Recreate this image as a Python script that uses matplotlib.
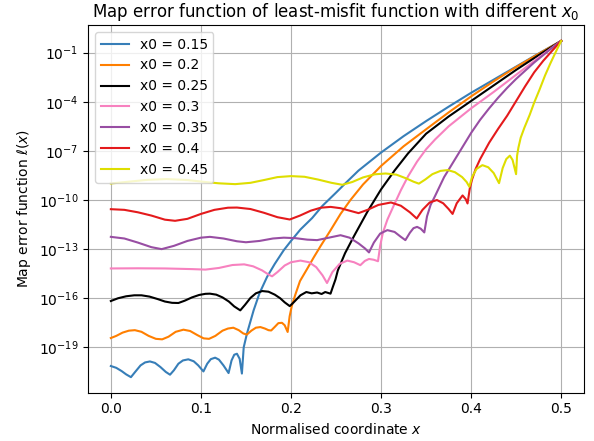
import numpy as np
import matplotlib
matplotlib.use('Agg')
import matplotlib.pyplot as plt
from matplotlib.ticker import NullLocator

# log10 of the map error l(x) for each x0, read along the normalised coordinate
x0_values = [0.15, 0.2, 0.25, 0.3, 0.35, 0.4, 0.45]

x_015 = [0, 0.006, 0.012, 0.017, 0.0223, 0.027, 0.033, 0.038, 0.0434, 0.049,
         0.055, 0.061, 0.0657, 0.070, 0.075, 0.080, 0.086, 0.092, 0.097, 0.1028,
         0.107, 0.111, 0.1158, 0.120, 0.125, 0.1307, 0.134, 0.137, 0.140, 0.143,
         0.1455, 0.1475, 0.1511, 0.1585, 0.165, 0.1734, 0.182, 0.1919, 0.2,
         0.2105, 0.2235, 0.235, 0.25, 0.26, 0.275, 0.3, 0.325, 0.35, 0.375, 0.4,
         0.425, 0.45, 0.475, 0.5]
ly_015 = [-20.14, -20.25, -20.45, -20.65, -20.82, -20.5, -20.1, -19.92, -19.86, -19.95,
          -20.2, -20.5, -20.67, -20.4, -20.0, -19.8, -19.73, -19.85, -20.1, -20.47,
          -20.0, -19.72, -19.63, -19.75, -20.1, -20.57, -19.8, -19.45, -19.39, -19.7,
          -20.6, -19.0, -18.16, -16.74, -15.7, -14.7, -13.9, -13.07, -12.5,
          -11.8, -11.1, -10.35, -9.55, -9.0, -8.2, -7.1, -6.1, -5.18, -4.3, -3.45,
          -2.65, -1.85, -1.05, -0.28]

x_020 = [0, 0.006, 0.013, 0.02, 0.0267, 0.034, 0.042, 0.05, 0.057, 0.064,
         0.072, 0.0806, 0.088, 0.096, 0.103, 0.109, 0.116, 0.124, 0.130, 0.136,
         0.142, 0.147, 0.151, 0.156, 0.161, 0.166, 0.171, 0.175, 0.178, 0.182,
         0.186, 0.190, 0.193, 0.1963, 0.1985, 0.201, 0.205, 0.210, 0.218, 0.2253,
         0.233, 0.2439, 0.255, 0.266, 0.28, 0.3, 0.325, 0.35, 0.375, 0.4,
         0.425, 0.45, 0.475, 0.5]
ly_020 = [-18.43, -18.3, -18.1, -17.98, -17.95, -18.05, -18.3, -18.48, -18.51, -18.35,
          -18.05, -17.92, -18.0, -18.25, -18.45, -18.48, -18.3, -17.98, -17.85, -17.8,
          -17.95, -18.15, -18.22, -17.98, -17.8, -17.76, -17.85, -17.95, -17.97, -17.75,
          -17.52, -17.5, -17.65, -18.06, -17.1, -16.45, -15.75, -14.95, -14.2, -13.5,
          -12.8, -11.85, -10.85, -10.0, -9.05, -7.92, -6.72, -5.68, -4.65, -3.67,
          -2.75, -1.88, -1.07, -0.28]

x_025 = [0, 0.008, 0.017, 0.026, 0.034, 0.043, 0.052, 0.06, 0.068, 0.075,
         0.082, 0.09, 0.098, 0.105, 0.11, 0.117, 0.124, 0.131, 0.137, 0.1437,
         0.149, 0.155, 0.161, 0.168, 0.175, 0.182, 0.188, 0.193, 0.1986, 0.203,
         0.2105, 0.217, 0.223, 0.229, 0.234, 0.238, 0.2439, 0.2465, 0.2494, 0.252,
         0.26, 0.27, 0.285, 0.3, 0.315, 0.33, 0.35, 0.375, 0.4, 0.425,
         0.45, 0.475, 0.5]
ly_025 = [-16.17, -16.0, -15.88, -15.82, -15.82, -15.9, -16.05, -16.2, -16.28, -16.29,
          -16.15, -15.95, -15.8, -15.73, -15.72, -15.78, -15.95, -16.2, -16.5, -16.74,
          -16.4, -15.98, -15.7, -15.56, -15.6, -15.78, -16.0, -16.25, -16.48, -16.25,
          -15.82, -15.62, -15.7, -15.65, -15.74, -15.62, -15.72, -15.3, -14.85, -14.3,
          -13.25, -12.2, -10.7, -9.35, -8.2, -7.15, -5.95, -4.9, -3.95, -3.0,
          -2.05, -1.15, -0.28]

x_030 = [0, 0.03, 0.06, 0.09, 0.105, 0.12, 0.135, 0.148, 0.158, 0.168,
         0.175, 0.179, 0.185, 0.193, 0.2, 0.2105, 0.22, 0.228, 0.235, 0.24,
         0.246, 0.254, 0.2625, 0.27, 0.277, 0.282, 0.2866, 0.292, 0.2966, 0.299,
         0.302, 0.307, 0.314, 0.322, 0.33, 0.34, 0.35, 0.36, 0.375, 0.4,
         0.425, 0.45, 0.475, 0.5]
ly_030 = [-14.18, -14.17, -14.18, -14.22, -14.25, -14.15, -13.97, -13.93, -14.05, -14.3,
          -14.55, -14.66, -14.4, -14.0, -13.8, -13.7, -13.8, -14.1, -14.6, -15.07,
          -14.4, -13.9, -13.7, -13.8, -13.98, -13.72, -13.6, -13.65, -13.74, -12.8,
          -12.0, -11.2, -10.35, -9.4, -8.55, -7.65, -6.9, -6.3, -5.5, -4.4,
          -3.4, -2.35, -1.3, -0.28]

x_035 = [0, 0.015, 0.03, 0.045, 0.0564, 0.07, 0.085, 0.1, 0.11, 0.125,
         0.14, 0.15, 0.165, 0.18, 0.192, 0.205, 0.218, 0.229, 0.242, 0.255,
         0.265, 0.275, 0.282, 0.2866, 0.292, 0.299, 0.307, 0.315, 0.322, 0.327,
         0.332, 0.336, 0.34, 0.344, 0.348, 0.351, 0.355, 0.36, 0.37, 0.38,
         0.39, 0.4, 0.41, 0.42, 0.43, 0.44, 0.45, 0.46, 0.47, 0.48,
         0.49, 0.5]
ly_035 = [-12.25, -12.35, -12.6, -12.88, -13.0, -12.8, -12.5, -12.3, -12.25, -12.35,
          -12.52, -12.58, -12.5, -12.35, -12.3, -12.33, -12.42, -12.45, -12.3, -12.15,
          -12.3, -12.65, -12.95, -13.2, -12.6, -12.05, -11.84, -11.95, -12.25, -12.45,
          -12.0, -11.72, -11.64, -11.75, -11.98, -11.0, -10.3, -9.75, -8.6, -7.7,
          -6.8, -5.9, -5.1, -4.4, -3.75, -3.15, -2.6, -2.1, -1.6, -1.15,
          -0.7, -0.28]

x_040 = [0, 0.015, 0.03, 0.045, 0.06, 0.0713, 0.085, 0.1, 0.115, 0.13,
         0.14, 0.155, 0.17, 0.185, 0.1986, 0.21, 0.222, 0.233, 0.244, 0.255,
         0.265, 0.275, 0.285, 0.297, 0.311, 0.322, 0.332, 0.3396, 0.346, 0.354,
         0.362, 0.369, 0.375, 0.3794, 0.384, 0.3905, 0.394, 0.396, 0.3985, 0.401,
         0.405, 0.41, 0.42, 0.43, 0.44, 0.45, 0.46, 0.47, 0.48, 0.49,
         0.5]
ly_040 = [-10.56, -10.6, -10.75, -10.95, -11.2, -11.27, -11.15, -10.85, -10.6, -10.47,
          -10.46, -10.55, -10.78, -11.05, -11.19, -10.95, -10.65, -10.47, -10.42, -10.5,
          -10.65, -10.8, -10.6, -10.3, -10.15, -10.35, -10.75, -11.13, -10.6, -10.15,
          -10.0, -10.2, -10.55, -10.85, -10.2, -9.72, -9.95, -10.21, -9.3, -8.75,
          -8.1, -7.5, -6.5, -5.65, -4.85, -3.95, -3.05, -2.2, -1.5, -0.88,
          -0.28]

x_045 = [0, 0.02, 0.04, 0.062, 0.085, 0.105, 0.12, 0.138, 0.155, 0.17,
         0.185, 0.2, 0.215, 0.23, 0.245, 0.257, 0.268, 0.28, 0.293, 0.305,
         0.317, 0.328, 0.336, 0.342, 0.349, 0.357, 0.366, 0.374, 0.382, 0.39,
         0.395, 0.398, 0.401, 0.406, 0.4125, 0.419, 0.425, 0.431, 0.435, 0.439,
         0.443, 0.446, 0.4499, 0.451, 0.4525, 0.455, 0.459, 0.465, 0.470, 0.476,
         0.482, 0.488, 0.494, 0.5]
ly_045 = [-8.99, -8.88, -8.77, -8.72, -8.78, -8.9, -8.98, -9.03, -8.95, -8.78,
          -8.6, -8.54, -8.58, -8.75, -8.95, -9.07, -8.9, -8.62, -8.43, -8.38,
          -8.45, -8.68, -8.88, -9.0, -8.75, -8.42, -8.22, -8.17, -8.3, -8.6,
          -8.9, -9.19, -8.6, -8.1, -7.87, -8.0, -8.35, -8.97, -8.05, -7.5,
          -7.29, -7.55, -8.42, -7.3, -6.8, -6.2, -5.6, -4.8, -4.05, -3.25,
          -2.4, -1.65, -0.95, -0.28]

xs = [x_015, x_020, x_025, x_030, x_035, x_040, x_045]
lys = [ly_015, ly_020, ly_025, ly_030, ly_035, ly_040, ly_045]
colours = ['#377eb8', '#ff7f00', 'k', '#f781bf', '#984ea3', '#e41a1c', '#dede00']

fig = plt.figure(figsize=(5.94, 4.41), dpi=100)
ax = fig.add_axes([0.1487, 0.1095, 0.834, 0.8338])

for x0, x, ly, c in zip(x0_values, xs, lys, colours):
    ax.semilogy(x, 10.0 ** np.array(ly), color=c, lw=1.5, label='x0 = %g' % x0)

ax.set_xlim(-0.025, 0.525)
ax.set_ylim(10.0 ** -21.77, 10.0 ** 0.69)
ax.set_yticks([10.0 ** -k for k in range(1, 20, 3)])
ax.yaxis.set_minor_locator(NullLocator())
ax.grid(True)
ax.set_xlabel('Normalised coordinate $x$')
ax.set_ylabel(r'Map error function $\ell(x)$')
ax.set_title('Map error function of least-misfit function with different $x_0$')
ax.legend(loc='upper left')

fig.savefig('out.png', dpi=100)
